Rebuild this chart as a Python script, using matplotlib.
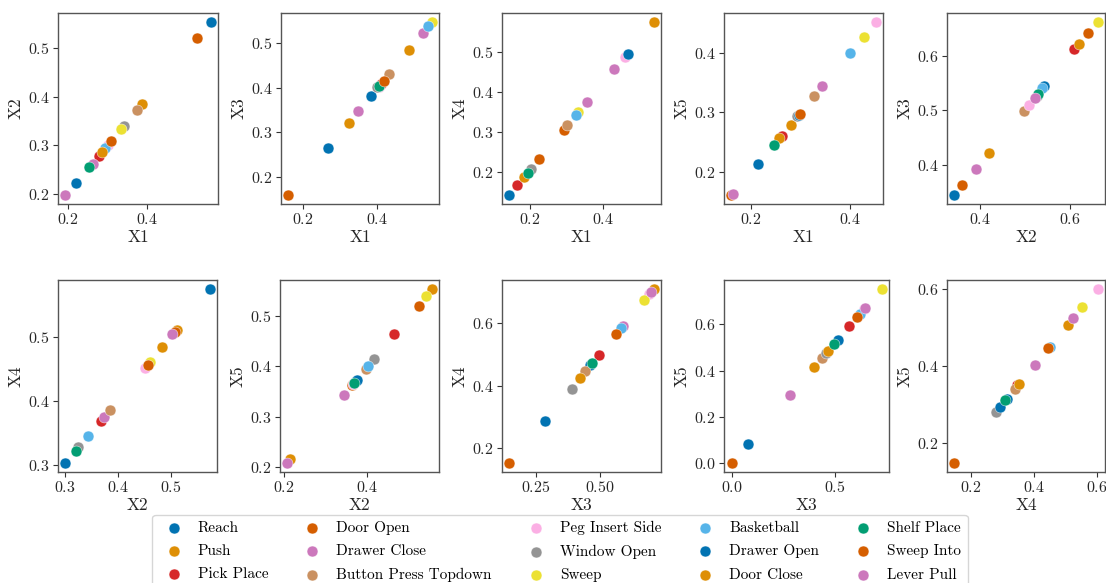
import matplotlib
matplotlib.use("Agg")
import matplotlib.pyplot as plt
from matplotlib.ticker import MultipleLocator

plt.rcParams["font.family"] = ["cmr10"]
plt.rcParams["mathtext.fontset"] = "cm"
plt.rcParams["axes.formatter.use_mathtext"] = True
plt.rcParams["axes.unicode_minus"] = False

tasks = ["Reach", "Push", "Pick Place", "Door Open", "Drawer Close",
         "Button Press Topdown", "Peg Insert Side", "Window Open", "Sweep",
         "Basketball", "Drawer Open", "Door Close", "Shelf Place",
         "Sweep Into", "Lever Pull"]
colors = ["#0173b2", "#de8f05", "#d62728", "#d55e00", "#cc78bc",
          "#ca9161", "#fbafe4", "#949494", "#ece133", "#56b4e9",
          "#0173b2", "#de8f05", "#029e73", "#d55e00", "#cc78bc"]

# one (x, y) pair of component values per task, for each pair of components
x1_vs_x2_x = [0.561, 0.388, 0.278, 0.527, 0.262, 0.374, 0.300, 0.341, 0.334, 0.294, 0.221, 0.285, 0.254, 0.309, 0.193]
x1_vs_x2_y = [0.555, 0.385, 0.279, 0.521, 0.262, 0.373, 0.301, 0.340, 0.334, 0.295, 0.222, 0.287, 0.256, 0.308, 0.197]

x1_vs_x3_x = [0.383, 0.487, 0.410, 0.161, 0.524, 0.432, 0.404, 0.399, 0.547, 0.537, 0.267, 0.324, 0.406, 0.418, 0.349]
x1_vs_x3_y = [0.382, 0.485, 0.409, 0.158, 0.523, 0.431, 0.403, 0.401, 0.549, 0.539, 0.265, 0.321, 0.404, 0.416, 0.348]

x1_vs_x4_x = [0.145, 0.537, 0.167, 0.293, 0.430, 0.302, 0.458, 0.203, 0.332, 0.326, 0.467, 0.186, 0.196, 0.226, 0.355]
x1_vs_x4_y = [0.141, 0.577, 0.166, 0.306, 0.459, 0.318, 0.489, 0.206, 0.349, 0.342, 0.497, 0.187, 0.197, 0.231, 0.376]

x1_vs_x5_x = [0.215, 0.281, 0.262, 0.160, 0.344, 0.328, 0.452, 0.293, 0.428, 0.399, 0.296, 0.257, 0.246, 0.298, 0.163]
x1_vs_x5_y = [0.214, 0.279, 0.261, 0.161, 0.344, 0.327, 0.452, 0.294, 0.427, 0.400, 0.295, 0.257, 0.245, 0.297, 0.163]

x2_vs_x3_x = [0.543, 0.419, 0.610, 0.359, 0.390, 0.497, 0.510, 0.527, 0.663, 0.539, 0.342, 0.621, 0.530, 0.642, 0.523]
x2_vs_x3_y = [0.544, 0.421, 0.612, 0.362, 0.393, 0.498, 0.510, 0.526, 0.662, 0.540, 0.344, 0.621, 0.529, 0.642, 0.523]

x2_vs_x4_x = [0.574, 0.511, 0.367, 0.508, 0.374, 0.384, 0.451, 0.325, 0.460, 0.343, 0.300, 0.483, 0.320, 0.456, 0.503]
x2_vs_x4_y = [0.575, 0.511, 0.368, 0.508, 0.374, 0.386, 0.451, 0.327, 0.460, 0.344, 0.302, 0.484, 0.321, 0.455, 0.504]

x2_vs_x5_x = [0.373, 0.557, 0.467, 0.364, 0.345, 0.397, 0.366, 0.418, 0.542, 0.404, 0.376, 0.215, 0.370, 0.525, 0.208]
x2_vs_x5_y = [0.371, 0.555, 0.464, 0.363, 0.343, 0.395, 0.365, 0.415, 0.540, 0.400, 0.374, 0.215, 0.367, 0.521, 0.207]

x3_vs_x4_x = [0.462, 0.711, 0.497, 0.145, 0.589, 0.441, 0.694, 0.389, 0.672, 0.583, 0.285, 0.421, 0.469, 0.563, 0.701]
x3_vs_x4_y = [0.465, 0.711, 0.499, 0.151, 0.591, 0.446, 0.694, 0.390, 0.675, 0.586, 0.288, 0.425, 0.472, 0.565, 0.701]

x3_vs_x5_x = [0.513, 0.397, 0.568, 0.000, 0.283, 0.435, 0.640, 0.457, 0.725, 0.622, 0.082, 0.468, 0.495, 0.605, 0.645]
x3_vs_x5_y = [0.532, 0.414, 0.593, 0.000, 0.294, 0.452, 0.664, 0.475, 0.753, 0.645, 0.085, 0.486, 0.515, 0.630, 0.670]

x4_vs_x5_x = [0.313, 0.506, 0.344, 0.146, 0.523, 0.339, 0.602, 0.279, 0.553, 0.449, 0.291, 0.352, 0.306, 0.443, 0.402]
x4_vs_x5_y = [0.315, 0.506, 0.351, 0.147, 0.525, 0.340, 0.600, 0.281, 0.552, 0.449, 0.294, 0.354, 0.310, 0.445, 0.403]

panels = [
    ("X1", "X2", x1_vs_x2_x, x1_vs_x2_y),
    ("X1", "X3", x1_vs_x3_x, x1_vs_x3_y),
    ("X1", "X4", x1_vs_x4_x, x1_vs_x4_y),
    ("X1", "X5", x1_vs_x5_x, x1_vs_x5_y),
    ("X2", "X3", x2_vs_x3_x, x2_vs_x3_y),
    ("X2", "X4", x2_vs_x4_x, x2_vs_x4_y),
    ("X2", "X5", x2_vs_x5_x, x2_vs_x5_y),
    ("X3", "X4", x3_vs_x4_x, x3_vs_x4_y),
    ("X3", "X5", x3_vs_x5_x, x3_vs_x5_y),
    ("X4", "X5", x4_vs_x5_x, x4_vs_x5_y),
]

# major tick spacing (x, y) for each panel
tick_steps = [(0.2, 0.1), (0.2, 0.1), (0.2, 0.1), (0.2, 0.1), (0.2, 0.1),
              (0.1, 0.1), (0.2, 0.1), (0.25, 0.2), (0.5, 0.2), (0.2, 0.2)]

W, H = 1106, 583
fig = plt.figure(figsize=(W / 100, H / 100), dpi=100)

# axes boxes in pixels: (left, right, top, bottom)
boxes = [
    (58, 218, 13, 204), (281, 439, 13, 204), (502, 661, 13, 204),
    (724, 883, 13, 204), (947, 1105, 13, 204),
    (58, 217, 280, 472), (280, 439, 280, 472), (502, 661, 280, 472),
    (724, 889, 280, 472), (947, 1105, 280, 472),
]

handles = []
for (xl, yl, xs, ys), (l, r, t, b), (sx, sy) in zip(panels, boxes, tick_steps):
    ax = fig.add_axes([l / W, 1 - b / H, (r - l) / W, (b - t) / H])
    for i, task in enumerate(tasks):
        sc = ax.scatter(xs[i], ys[i], s=62, color=colors[i],
                        edgecolor="white", linewidth=0.3, label=task,
                        zorder=2 + i * 0.01)
        if len(handles) < len(tasks):
            handles.append(sc)
    ax.margins(0.05)
    ax.xaxis.set_major_locator(MultipleLocator(sx))
    ax.yaxis.set_major_locator(MultipleLocator(sy))
    ax.set_xlabel(xl, fontsize=12.5, color="#262626", labelpad=2)
    ax.set_ylabel(yl, fontsize=12.5, color="#262626", labelpad=3)
    ax.tick_params(labelsize=11.5, colors="#333333", length=3.5, width=0.8,
                   pad=2.5, labelcolor="#262626")
    for sp in ax.spines.values():
        sp.set_color("#555555")
        sp.set_linewidth(1.0)

fig.legend(handles, tasks, loc="upper center", ncol=5,
           bbox_to_anchor=(560 / W, 1 - 507 / H), fontsize=11,
           frameon=True, edgecolor="#cccccc", fancybox=True,
           handletextpad=0.57, columnspacing=1.88, borderpad=0.4,
           labelspacing=0.62, markerscale=1.0)

fig.savefig("out.png", dpi=100)
